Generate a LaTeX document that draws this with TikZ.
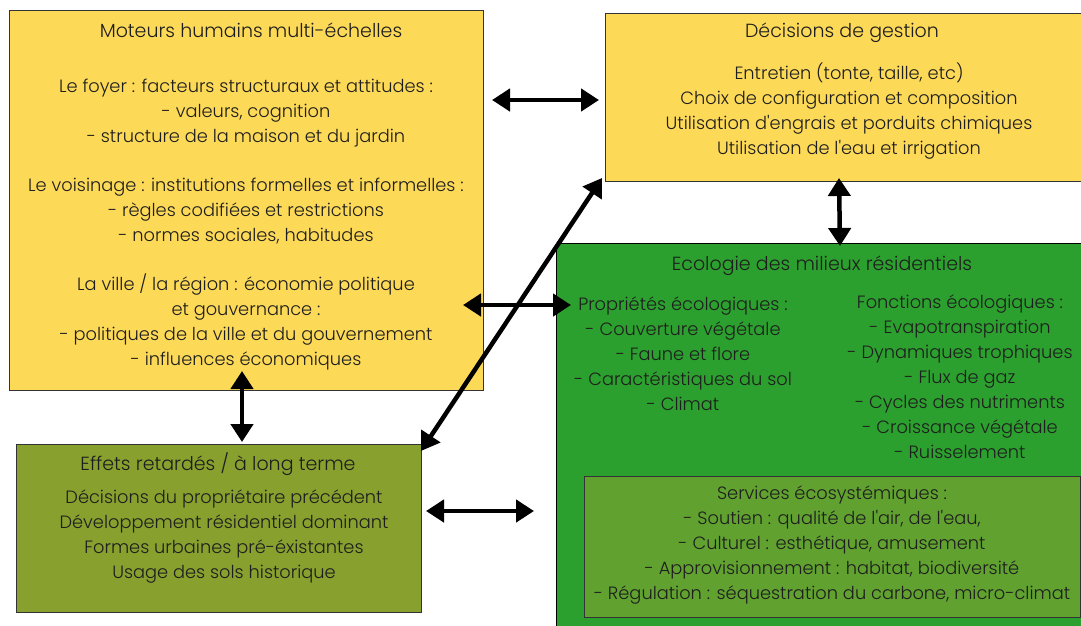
\documentclass[tikz,border=0pt]{standalone}
\usepackage{fontspec}
\setmainfont{Poppins}[UprightFont={* Light}, Ligatures=TeXOff]
\usetikzlibrary{arrows.meta}
\definecolor{ylw}{RGB}{253,217,88}
\definecolor{grn}{RGB}{44,160,46}
\definecolor{olv}{RGB}{135,160,46}
\definecolor{srv}{RGB}{96,161,47}
\definecolor{txt}{RGB}{30,30,30}
\tikzset{
  box/.style={draw=black!80, line width=1pt, inner sep=0pt, anchor=north west},
  lbl/.style={inner sep=0pt, align=center, text=txt, anchor=base, font=\fontsize{17.8}{24.9}\selectfont},
  ttl/.style={lbl, font=\fontsize{19}{24.9}\selectfont},
  dbl/.style={{Triangle[length=18pt,width=22pt]}-{Triangle[length=18pt,width=22pt]}, line width=4.5pt, black}
}
\begin{document}
\begin{tikzpicture}[x=1pt,y=-1pt]
\useasboundingbox (0,0) rectangle (1081,625);
% boxes
\node[box, fill=ylw, minimum width=474pt, minimum height=380pt] (A) at (9,10) {};
\node[box, fill=ylw, minimum width=480pt, minimum height=168pt] (B) at (605,13) {};
\node[box, fill=grn, draw=black, line width=1.4pt, minimum width=530pt, minimum height=390pt] (C) at (556,243) {};
\node[box, fill=olv, minimum width=405pt, minimum height=168pt] (D) at (16,444) {};
\node[box, fill=srv, minimum width=496pt, minimum height=141pt] (E) at (584,476) {};
% texts (anchor = baseline of last line)
\node[ttl] (At) at (251,37) {Moteurs humains multi-échelles};
\node[lbl] (A1) at (246,142) {Le foyer : facteurs structuraux et attitudes :\\- valeurs, cognition\\- structure de la maison et du jardin};
\node[lbl] (A2) at (246,241) {Le voisinage : institutions formelles et informelles :\\- règles codifiées et restrictions\\- normes sociales, habitudes};
\node[lbl] (A3) at (246,365) {La ville / la région : économie politique\\et gouvernance :\\- politiques de la ville et du gouvernement\\- influences économiques};
\node[ttl] (Bt) at (842,37) {Décisions de gestion};
\node[lbl] (B1) at (849,154) {Entretien (tonte, taille, etc)\\Choix de configuration et composition\\Utilisation d'engrais et porduits chimiques\\Utilisation de l'eau et irrigation};
\node[ttl] (Ct) at (822,270) {Ecologie des milieux résidentiels};
\node[lbl] (C1) at (683,410) {Propriétés écologiques :\\- Couverture végétale\\- Faune et flore\\- Caractéristiques du sol\\- Climat};
\node[lbl] (C2) at (960,458) {Fonctions écologiques :\\- Evapotranspiration\\- Dynamiques trophiques\\- Flux de gaz\\- Cycles des nutriments\\- Croissance végétale\\- Ruisselement};
\node[ttl] (Dt) at (218,470) {Effets retardés / à long terme};
\node[lbl] (D1) at (224,578) {Décisions du propriétaire précédent\\Développement résidentiel dominant\\Formes urbaines pré-éxistantes\\Usage des sols historique};
\node[lbl] (E1) at (832,599) {Services écosystémiques :\\- Soutien : qualité de l'air, de l'eau,\\- Culturel : esthétique, amusement\\- Approvisionnement : habitat, biodiversité\\- Régulation : séquestration du carbone, micro-climat};
% arrow tips
\coordinate (ab1) at (492,100); \coordinate (ab2) at (599,100);
\coordinate (bc1) at (839,178); \coordinate (bc2) at (840,246);
\coordinate (ad1) at (242,371); \coordinate (ad2) at (242,442);
\coordinate (ac1) at (463,305); \coordinate (ac2) at (571,305);
\coordinate (db1) at (421,451); \coordinate (db2) at (602,178);
\coordinate (de1) at (426,511); \coordinate (de2) at (534,511);
\draw[dbl] (ab1) -- (ab2);
\draw[dbl] (bc1) -- (bc2);
\draw[dbl] (ad1) -- (ad2);
\draw[dbl] (ac1) -- (ac2);
\draw[dbl] (db1) -- (db2);
\draw[dbl] (de1) -- (de2);
\end{tikzpicture}
\end{document}
